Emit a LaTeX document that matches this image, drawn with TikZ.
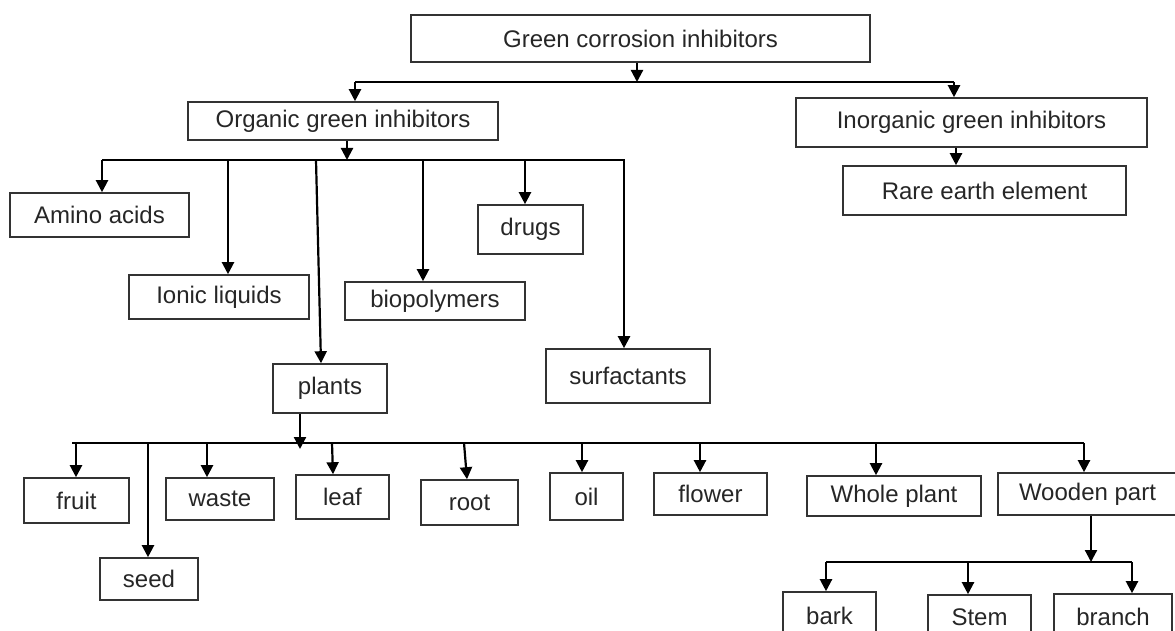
\documentclass[tikz,border=0pt]{standalone}
\usepackage{fontspec}
\setmainfont{Liberation Sans}
\usetikzlibrary{arrows.meta}
\tikzset{
  box/.style={draw=black!80, line width=1.6pt, inner sep=0pt, text=black!85,
    font=\fontsize{24}{28}\selectfont},
  arr/.style={line width=2.2pt, -{Triangle[width=12pt,length=12pt]}},
  bus/.style={line width=2.2pt}
}
\begin{document}
\begin{tikzpicture}[x=1pt,y=-1pt]
\clip (0,0) rectangle (1175,631);
% top levels
\node[box, minimum width=459, minimum height=47] (green) at (640.5,38.5) {Green corrosion inhibitors};
\node[box, minimum width=310, minimum height=38] (organic) at (343,121) {Organic green inhibitors};
\node[box, minimum width=351, minimum height=49] (inorganic) at (971.5,122.5) {Inorganic green inhibitors};
\node[box, minimum width=283, minimum height=49] (rare) at (984.5,190.5) {Rare earth element};
% organic classes
\node[box, minimum width=179, minimum height=44] (amino) at (99.5,215) {Amino acids};
\node[box, minimum width=180, minimum height=44] (ionic) at (219,297) {Ionic liquids};
\node[box, minimum width=180, minimum height=38] (biopolymers) at (435,301) {biopolymers};
\node[box, minimum width=105, minimum height=49] (drugs) at (530.5,229.5) {drugs};
\node[box, minimum width=114, minimum height=49] (plants) at (330,388.5) {plants};
\node[box, minimum width=164, minimum height=54] (surfactants) at (628,376) {surfactants};
% plant parts
\node[box, minimum width=105, minimum height=45] (fruit) at (76.5,500.5) {fruit};
\node[box, minimum width=98, minimum height=42] (seed) at (149,579) {seed};
\node[box, minimum width=108, minimum height=42] (waste) at (220,499) {waste};
\node[box, minimum width=93, minimum height=44] (leaf) at (342.5,497) {leaf};
\node[box, minimum width=97, minimum height=45] (root) at (469.5,502.5) {root};
\node[box, minimum width=73, minimum height=47] (oil) at (586.5,496.5) {oil};
\node[box, minimum width=113, minimum height=42] (flower) at (710.5,494) {flower};
\node[box, minimum width=174, minimum height=40] (whole) at (894,496) {Whole plant};
\node[box, minimum width=179, minimum height=42] (wooden) at (1087.5,494) {Wooden part};
% wooden parts
\node[box, minimum width=93, minimum height=48] (bark) at (829.5,616) {bark};
\node[box, minimum width=103, minimum height=45] (stem) at (979.5,617.5) {Stem};
\node[box, minimum width=118, minimum height=46] (branch) at (1113,617) {branch};

% level 0
\coordinate (b0) at (637,82);
\coordinate (b0l) at (355,82);
\coordinate (b0r) at (954,82);
\draw[arr] (green.south -| b0) -- (b0);
\draw[bus] (b0l) -- (b0r);
\draw[arr] (b0l) -- (b0l |- organic.north);
\draw[arr] (b0r) -- (b0r |- inorganic.north);
\draw[arr] (inorganic.south -| 956,0) -- (956,0 |- rare.north);

% level 1
\coordinate (b1) at (347,160);
\draw[arr] (organic.south -| b1) -- (b1);
\draw[bus] (102,160) -- (625,160);
\foreach \n/\xa/\xb in {amino/102/102, ionic/228/228, plants/316/321,
    biopolymers/423/423, drugs/525/525, surfactants/624/624}
  \draw[arr] (\xa,160) -- (\xb,160 |- \n.north);

% level 2
\coordinate (b2) at (300,449);
\draw[arr] (plants.south -| b2) -- (b2);
\draw[bus] (72,443) -- (1084,443);
\foreach \n/\xa/\xb in {fruit/76/76, seed/148/148, waste/207/207, leaf/332/333,
    root/464/467, oil/582/582, flower/700/700, whole/876/876, wooden/1084/1084}
  \draw[arr] (\xa,443) -- (\xb,443 |- \n.north);

% level 3
\coordinate (b3) at (1091,562);
\draw[arr] (wooden.south -| b3) -- (b3);
\draw[bus] (826,562) -- (1132,562);
\foreach \n/\x in {bark/826, stem/968, branch/1132}
  \draw[arr] (\x,562) -- (\x,562 |- \n.north);
\end{tikzpicture}
\end{document}
